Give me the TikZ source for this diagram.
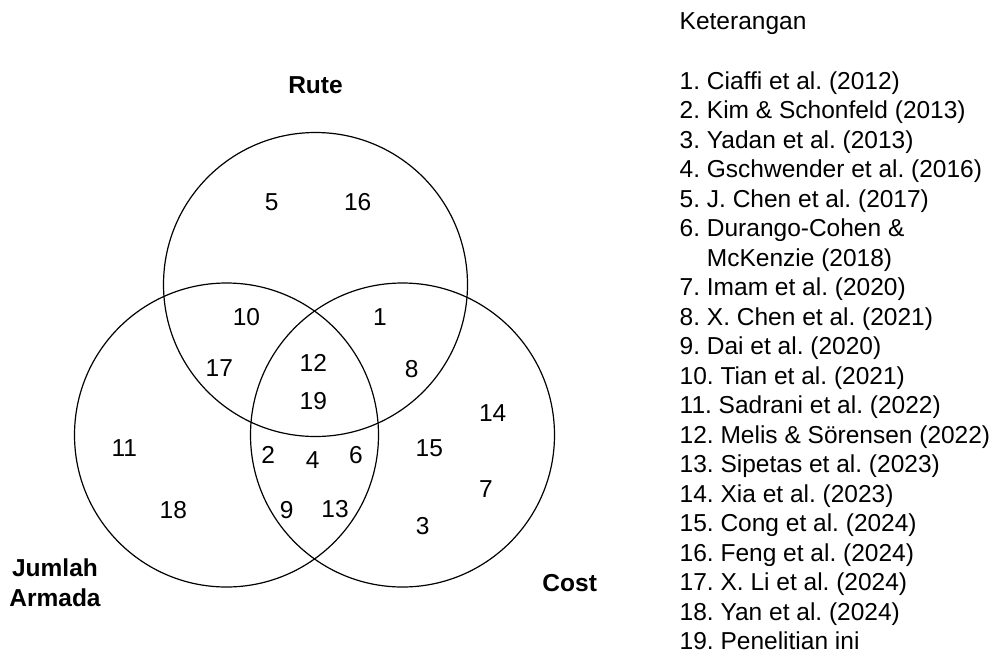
\documentclass[tikz,border=0pt]{standalone}
\usepackage{fontspec}
\setmainfont{Liberation Sans}
\frenchspacing
\begin{document}
\begin{tikzpicture}[x=1pt,y=-1pt,
  setcircle/.style={draw, circle, line width=1.2pt, minimum size=304pt, inner sep=0pt},
  num/.style={inner sep=0pt, font=\fontsize{24.5}{29.5}\selectfont},
  settitle/.style={inner sep=0pt, anchor=base, font=\fontsize{24.5}{29.5}\selectfont\bfseries},
  legline/.style={inner sep=0pt, anchor=base west, font=\fontsize{24.5}{29.5}\selectfont}]
\useasboundingbox (0,0) rectangle (995,654);

% the three sets
\node[setcircle] (rute)   at (315.5,284.5) {};
\node[setcircle] (jumlah) at (226.5,435) {};
\node[setcircle] (cost)   at (402.5,435) {};

% set titles
\node[settitle] (tRute)   at (315.5,93.3) {Rute};
\node[settitle] (tJumlah) at (55,576.7) {Jumlah};
\node[settitle] (tArmada) at (55,606.7) {Armada};
\node[settitle] (tCost)   at (569.7,591.7) {Cost};

% study numbers inside the regions
\foreach \n/\x/\y in {5/271.7/201.7, 16/357.7/201.7, 10/246.5/317.3, 1/380/317.3,
    17/219.3/368.3, 12/313.3/362.7, 19/313.3/400.7, 8/411.7/369.3,
    14/492.7/413.3, 15/429.3/448.3, 7/486/489.3, 3/422.7/525.7,
    2/268.3/455, 4/312.7/460, 6/356/455, 9/286.7/510, 13/335/509.3,
    11/124.3/448.3, 18/173.3/510}
  \node[num] (n\n) at (\x,\y) {\n};

% legend
\node[legline] (ket) at (679.5,29.3) {Keterangan};
\foreach \i/\t in {0/{1. Ciaffi et al. (2012)},
    1/{2. Kim \& Schonfeld (2013)},
    2/{3. Yadan et al. (2013)},
    3/{4. Gschwender et al. (2016)},
    4/{5. J. Chen et al. (2017)},
    5/{6. Durango-Cohen \&},
    6/{\hphantom{6.\ }McKenzie (2018)},
    7/{7. Imam et al. (2020)},
    8/{8. X. Chen et al. (2021)},
    9/{9. Dai et al. (2020)},
    10/{10. Tian et al. (2021)},
    11/{11. Sadrani et al. (2022)},
    12/{12. Melis \& Sörensen (2022)},
    13/{13. Sipetas et al. (2023)},
    14/{14. Xia et al. (2023)},
    15/{15. Cong et al. (2024)},
    16/{16. Feng et al. (2024)},
    17/{17. X. Li et al. (2024)},
    18/{18. Yan et al. (2024)},
    19/{19. Penelitian ini}}
  \node[legline] (leg\i) at (679.5,89.3+29.5*\i) {\t};
\end{tikzpicture}
\end{document}
